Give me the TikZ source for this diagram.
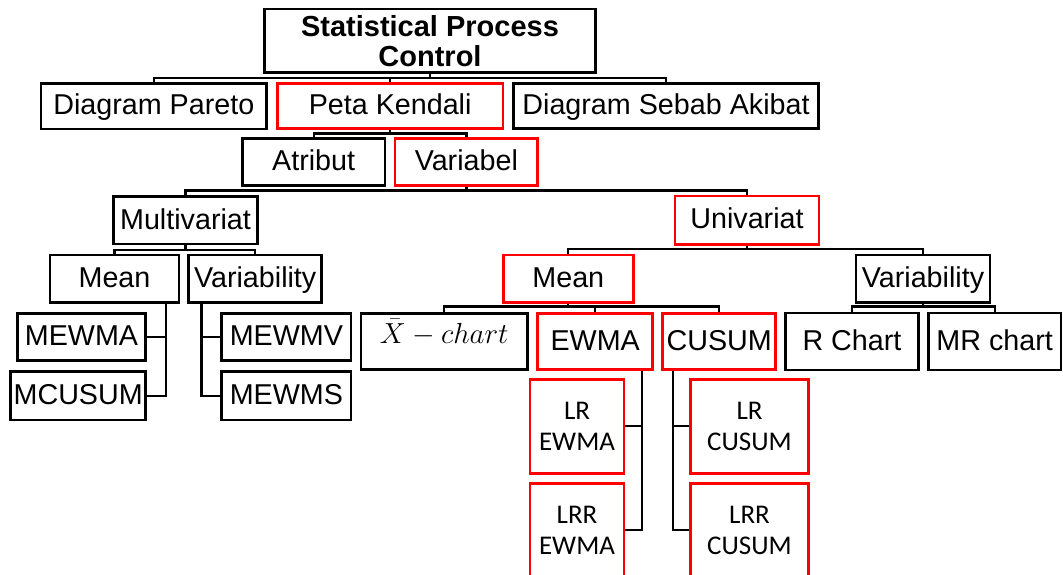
\documentclass[tikz,border=0pt]{standalone}
\usepackage{fix-cm}
\usepackage{fontspec}
\setmainfont{Liberation Sans}
\newfontfamily\calfont{Carlito}
\usetikzlibrary{calc}
\begin{document}
\begin{tikzpicture}[x=1pt,y=-1pt,
  box/.style={draw=black, line width=2.6pt, inner sep=0pt,
    font=\fontsize{28.7}{34}\selectfont, text height=21pt, text depth=3.5pt},
  redbox/.style={box, draw=red},
  twoline/.style={text height={}, text depth={}, align=center},
  lrbox/.style={redbox, twoline, font=\calfont\fontsize{27}{31.7}\selectfont},
  conn/.style={draw=black, line width=2.3pt}]
\useasboundingbox (0,0) rectangle (1063,575);
\fill[white] (0,0) rectangle (1063,575);

% level 0
\node[box, twoline, font=\bfseries\fontsize{29}{30}\selectfont,
  minimum width=331.4pt, minimum height=63.7pt] (spc) at (430,40.85)
  {Statistical Process\\Control};
% level 1
\node[box, minimum width=225.7pt, minimum height=45.7pt] (pareto) at (153.85,106.15) {Diagram Pareto};
\node[redbox, minimum width=225.7pt, minimum height=45pt] (pk) at (390.15,105.8) {Peta Kendali};
\node[box, minimum width=305.4pt, minimum height=45pt] (sebab) at (666,105.8) {Diagram Sebab Akibat};
% level 2
\node[box, minimum width=142.7pt, minimum height=47.4pt] (atribut) at (313.65,162) {Atribut};
\node[redbox, minimum width=142.7pt, minimum height=47.4pt] (variabel) at (466.35,162) {Variabel};
% level 3
\node[box, minimum width=144.4pt, minimum height=47.3pt] (multi) at (185.5,220.35) {Multivariat};
\node[redbox, minimum width=144pt, minimum height=48.3pt] (uni) at (747,220.15) {Univariat};
% level 4
\node[box, minimum width=129pt, minimum height=47.3pt] (meanL) at (114.5,278.65) {Mean};
\node[box, minimum width=133pt, minimum height=47.3pt] (varL) at (255.2,278.65) {Variability};
\node[redbox, minimum width=130pt, minimum height=47.7pt] (meanR) at (568.3,278.85) {Mean};
\node[box, minimum width=134pt, minimum height=47.7pt] (varR) at (923,278.85) {Variability};
% multivariate leaves
\node[box, minimum width=128.4pt, minimum height=47.4pt] (mewma) at (81.5,337) {MEWMA};
\node[box, minimum width=135pt, minimum height=48.3pt] (mcusum) at (78.2,395.85) {MCUSUM};
\node[box, minimum width=129.3pt, minimum height=47.4pt] (mewmv) at (286.35,337) {MEWMV};
\node[box, minimum width=129.3pt, minimum height=48.3pt] (mewms) at (286.35,395.85) {MEWMS};
% univariate level 5
\node[box, minimum width=166.3pt, minimum height=56pt, text height=21pt, text depth=17pt,
  font=\fontsize{29}{32}\selectfont] (xchart) at (444.15,341.3) {$\bar{X}-chart$\hspace{8pt}};
\node[redbox, minimum width=115pt, minimum height=56pt] (ewma) at (595.2,341.3) {EWMA};
\node[redbox, minimum width=113pt, minimum height=56pt] (cusum) at (719.2,341.3) {CUSUM};
\node[box, minimum width=132.6pt, minimum height=57pt] (rchart) at (852,341.5) {R Chart};
\node[box, minimum width=132.7pt, minimum height=57pt] (mrchart) at (994.65,341.5) {MR chart};
% level 6
\node[lrbox, minimum width=94pt, minimum height=94pt] (lrewma) at (577,426.3) {LR\\EWMA};
\node[lrbox, minimum width=94pt, minimum height=94pt] (lrrewma) at (577,530.3) {LRR\\EWMA};
\node[lrbox, minimum width=117.6pt, minimum height=94pt] (lrcusum) at (749.5,426.3) {LR\\CUSUM};
\node[lrbox, minimum width=117.6pt, minimum height=94pt] (lrrcusum) at (749.5,530.3) {LRR\\CUSUM};

% connectors
\draw[conn] (pareto.north) -- ++(0,-4) -| (sebab.north);
\draw[conn] (pk.north) -- ++(0,-4);
\draw[conn] (spc.south) -- ($(spc.south |- pareto.north)+(0,-4)$);

\draw[conn] (atribut.north) -- ++(0,-3.5) -| (variabel.north);
\draw[conn] (pk.south) -- ($(pk.south |- atribut.north)+(0,-3.5)$);

\draw[conn] (multi.north) -- ++(0,-5) -| (uni.north);
\draw[conn] (variabel.south) -- ($(variabel.south |- multi.north)+(0,-5)$);

\draw[conn] (meanL.north) -- ++(0,-4) -| (varL.north);
\draw[conn] (multi.south) -- ($(multi.south |- meanL.north)+(0,-4)$);

\draw[conn] (meanR.north) -- ++(0,-5) -| (varR.north);
\draw[conn] (uni.south) -- ($(uni.south |- meanR.north)+(0,-5)$);

\coordinate (mlb) at ($(meanL.south east)+(-14,0)$);
\draw[conn] (mlb) |- (mcusum.east);
\draw[conn] (mewma.east) -- (mewma.east -| mlb);
\coordinate (vlb) at ($(varL.south west)+(14,0)$);
\draw[conn] (vlb) |- (mewms.west);
\draw[conn] (mewmv.west) -- (mewmv.west -| vlb);

\draw[conn] (xchart.north) -- ++(0,-5.6) -| (cusum.north);
\draw[conn] (ewma.north) -- ++(0,-5.6);
\draw[conn] (meanR.south) -- ($(meanR.south |- xchart.north)+(0,-5.6)$);

\draw[conn] (rchart.north) -- ++(0,-5.3) -| (mrchart.north);
\draw[conn] (varR.south) -- ($(varR.south |- rchart.north)+(0,-5.3)$);

\coordinate (eb) at ($(ewma.south east)+(-11.7,0)$);
\draw[conn] (eb) |- (lrrewma.east);
\draw[conn] (lrewma.east) -- (lrewma.east -| eb);
\coordinate (cb) at ($(cusum.south west)+(11.3,0)$);
\draw[conn] (cb) |- (lrrcusum.west);
\draw[conn] (lrcusum.west) -- (lrcusum.west -| cb);
\end{tikzpicture}
\end{document}
